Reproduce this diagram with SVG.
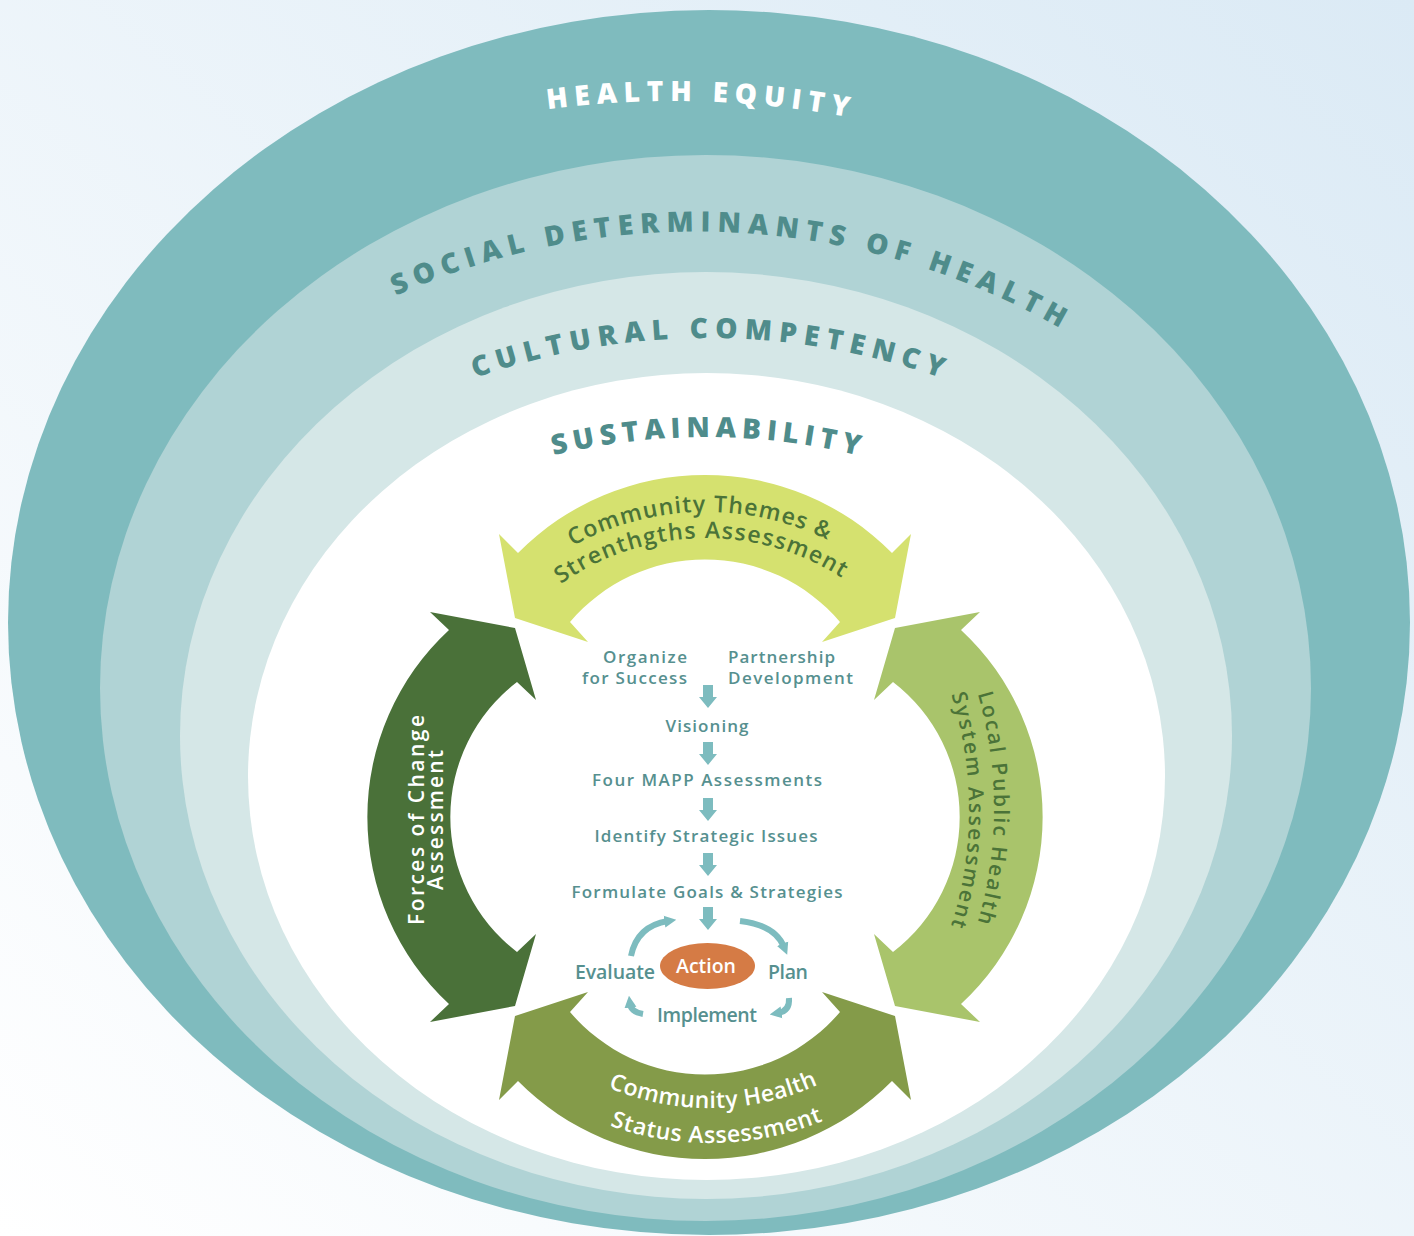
<svg xmlns="http://www.w3.org/2000/svg" xmlns:xlink="http://www.w3.org/1999/xlink" width="1414" height="1236" viewBox="0 0 1414 1236">
<style>
.ring{font-family:"Open Sans","Liberation Sans",sans-serif;font-weight:800;font-size:28px;}
.arw{font-family:"Open Sans","Liberation Sans",sans-serif;font-weight:600;font-size:23px;}
.side{font-family:"Open Sans","Liberation Sans",sans-serif;font-weight:600;font-size:21px;}
.step{font-family:"Open Sans","Liberation Sans",sans-serif;font-weight:600;font-size:17px;fill:#56908f;}
.cyc{font-family:"Open Sans","Liberation Sans",sans-serif;font-weight:600;font-size:19.5px;fill:#56908f;}
.flow{fill:#7dbcbf;}
.cycline{fill:none;stroke:#7dbcbf;stroke-width:6;marker-end:url(#ah);}
</style>
<defs>
<linearGradient id="bg" x1="0" y1="1" x2="1" y2="0">
<stop offset="0" stop-color="#ffffff"/>
<stop offset="1" stop-color="#dbeaf5"/>
</linearGradient>
<path id="p-he" d="M -478.5,-828.8 A 957 957 0 0 1 478.5,-828.8"/>
<path id="p-sd" d="M -635.2,-366.75 A 733.5 733.5 0 0 1 635.2,-366.75"/>
<path id="p-cc" d="M -348,-602.8 A 696 696 0 0 1 348,-602.8"/>
<path id="p-su" d="M -323,-559.4 A 646 646 0 0 1 323,-559.4"/>
<path id="p-t1" d="M -240.8,-139 A 278 278 0 0 1 240.8,-139"/>
<path id="p-t2" d="M -218.2,-126 A 252 252 0 0 1 218.2,-126"/>
<path id="p-b1" d="M -227.8,131.5 A 263 263 0 0 0 227.8,131.5"/>
<path id="p-b2" d="M -258.1,149 A 298 298 0 0 0 258.1,149"/>
<path id="p-r1" d="M 355.1,-205 A 410 410 0 0 1 355.1,205"/>
<path id="p-r2" d="M 331.7,-191.5 A 383 383 0 0 1 331.7,191.5"/>
<path id="down" d="M -5,0 H 5 V 12 H 9 L 0,23 L -9,12 H -5 Z"/>
<marker id="ah" markerUnits="userSpaceOnUse" viewBox="0 0 10 10" refX="3" refY="5" markerWidth="12" markerHeight="13" orient="auto"><path d="M0,0 L10,5 L0,10 Z" fill="#7dbcbf"/></marker>
</defs>

<rect width="1414" height="1236" fill="url(#bg)"/>

<g id="health-equity">
<ellipse cx="709" cy="622.5" rx="701" ry="612.5" fill="#7fbbbe"/>
<text class="ring" font-size="27" fill="#ffffff" text-anchor="middle" transform="translate(673,1058) rotate(1.5)"><textPath href="#p-he" xlink:href="#p-he" startOffset="50%" textLength="302" lengthAdjust="spacing">HEALTH EQUITY</textPath></text>
</g>

<g id="social-determinants">
<ellipse cx="705.5" cy="688" rx="605.5" ry="533" fill="#b0d3d5"/>
<text class="ring" fill="#4f8c8b" text-anchor="middle" transform="translate(696,965) rotate(2.8)"><textPath href="#p-sd" xlink:href="#p-sd" startOffset="50%" textLength="690" lengthAdjust="spacing">SOCIAL DETERMINANTS OF HEALTH</textPath></text>
</g>

<g id="cultural-competency">
<ellipse cx="706" cy="735.5" rx="526" ry="463.5" fill="#d5e7e7"/>
<text class="ring" fill="#4f8c8b" text-anchor="middle" transform="translate(708,1034)"><textPath href="#p-cc" xlink:href="#p-cc" startOffset="50%" textLength="475" lengthAdjust="spacing">CULTURAL COMPETENCY</textPath></text>
</g>

<g id="sustainability">
<ellipse cx="706.5" cy="776.5" rx="458.5" ry="403.5" fill="#ffffff"/>
<text class="ring" fill="#4f8c8b" text-anchor="middle" transform="translate(706,1083)"><textPath href="#p-su" xlink:href="#p-su" startOffset="50%" textLength="308" lengthAdjust="spacing">SUSTAINABILITY</textPath></text>
</g>

<g id="community-themes">
<path d="M 518,553 A 263 263 0 0 1 892,553 L 911,534 L 895,618 L 822,642 L 840,622 A 177 177 0 0 0 570,622 L 588,642 L 515,618 L 499,534 Z" fill="#d5e16f"/>
<text class="arw" fill="#4b7338" text-anchor="middle" transform="translate(706,790) rotate(-1.4)"><textPath href="#p-t1" xlink:href="#p-t1" startOffset="50%" textLength="265" lengthAdjust="spacing">Community Themes &amp;</textPath></text>
<text class="arw" fill="#4b7338" text-anchor="middle" transform="translate(706,790) rotate(-1.3)"><textPath href="#p-t2" xlink:href="#p-t2" startOffset="50%" textLength="298" lengthAdjust="spacing">Strenthgths Assessment</textPath></text>
</g>

<g id="forces-of-change">
<path d="M 449,630 A 255 255 0 0 0 449,1004 L 430,1022 L 515,1006 L 536,934 L 517,952 A 170 170 0 0 1 517,682 L 536,700 L 515,628 L 430,612 Z" fill="#4a7139"/>
<text class="side" fill="#ffffff" text-anchor="middle" transform="translate(424,820) rotate(-90)" textLength="210" lengthAdjust="spacing">Forces of Change</text>
<text class="side" fill="#ffffff" text-anchor="middle" transform="translate(443,820) rotate(-90)" textLength="140" lengthAdjust="spacing">Assessment</text>
</g>

<g id="local-public-health">
<path d="M 961,630 A 255 255 0 0 1 961,1004 L 980,1022 L 895,1006 L 874,934 L 893,952 A 170 170 0 0 0 893,682 L 874,700 L 895,628 L 980,612 Z" fill="#a9c46b"/>
<text class="side" fill="#4b7338" text-anchor="middle" transform="translate(584,808)"><textPath href="#p-r1" xlink:href="#p-r1" startOffset="50%" textLength="232" lengthAdjust="spacing">Local Public Health</textPath></text>
<text class="side" fill="#4b7338" text-anchor="middle" transform="translate(586,810)"><textPath href="#p-r2" xlink:href="#p-r2" startOffset="50%" textLength="235" lengthAdjust="spacing">System Assessment</textPath></text>
</g>

<g id="community-health-status">
<path d="M 518,1081 A 263 263 0 0 0 892,1081 L 911,1100 L 895,1016 L 822,992 L 840,1012 A 177 177 0 0 1 570,1012 L 588,992 L 515,1016 L 499,1100 Z" fill="#849b49"/>
<text class="arw" fill="#ffffff" text-anchor="middle" transform="translate(710,845) rotate(-0.7)"><textPath href="#p-b1" xlink:href="#p-b1" startOffset="50%" textLength="216" lengthAdjust="spacing">Community Health</textPath></text>
<text class="arw" fill="#ffffff" text-anchor="middle" transform="translate(710,845) rotate(-1.3)"><textPath href="#p-b2" xlink:href="#p-b2" startOffset="50%" textLength="218" lengthAdjust="spacing">Status Assessment</textPath></text>
</g>

<g id="organize">
<text class="step" x="687" y="663" text-anchor="end" textLength="84" lengthAdjust="spacing">Organize</text>
<text class="step" x="687" y="684" text-anchor="end" textLength="105" lengthAdjust="spacing">for Success</text>
</g>
<g id="partnership">
<text class="step" x="728" y="663" textLength="107" lengthAdjust="spacing">Partnership</text>
<text class="step" x="728" y="684" textLength="125" lengthAdjust="spacing">Development</text>
</g>
<g id="visioning"><text class="step" x="707" y="732" text-anchor="middle" textLength="83" lengthAdjust="spacing">Visioning</text></g>
<g id="four-mapp"><text class="step" x="707" y="786" text-anchor="middle" textLength="230" lengthAdjust="spacing">Four MAPP Assessments</text></g>
<g id="strategic-issues"><text class="step" x="706" y="842" text-anchor="middle" textLength="223" lengthAdjust="spacing">Identify Strategic Issues</text></g>
<g id="goals"><text class="step" x="707" y="898" text-anchor="middle" textLength="271" lengthAdjust="spacing">Formulate Goals &amp; Strategies</text></g>

<g id="action">
<ellipse cx="707.5" cy="966" rx="47.5" ry="23" fill="#d57b45"/>
<text class="cyc" x="706" y="973" style="fill:#ffffff" text-anchor="middle" textLength="60" lengthAdjust="spacing">Action</text>
</g>
<g id="evaluate"><text class="cyc" x="575" y="979" textLength="80" lengthAdjust="spacing">Evaluate</text></g>
<g id="plan"><text class="cyc" x="768" y="979" textLength="40" lengthAdjust="spacing">Plan</text></g>
<g id="implement"><text class="cyc" x="707" y="1022" text-anchor="middle" textLength="100" lengthAdjust="spacing">Implement</text></g>

<g id="connectors">
<use href="#down" xlink:href="#down" class="flow" x="708" y="685"/>
<use href="#down" xlink:href="#down" class="flow" x="708" y="742"/>
<use href="#down" xlink:href="#down" class="flow" x="708" y="798"/>
<use href="#down" xlink:href="#down" class="flow" x="708" y="853"/>
<use href="#down" xlink:href="#down" class="flow" x="708" y="907"/>
<path class="cycline" d="M 631,956 Q 637,926 668,921"/>
<path class="cycline" d="M 740,921 Q 775,925 784,947"/>
<path class="cycline" stroke-width="5" d="M 789,998 Q 790,1011 778,1013"/>
<path class="cycline" stroke-width="5" d="M 643,1014 Q 631,1012 630,1004"/>
</g>
</svg>
